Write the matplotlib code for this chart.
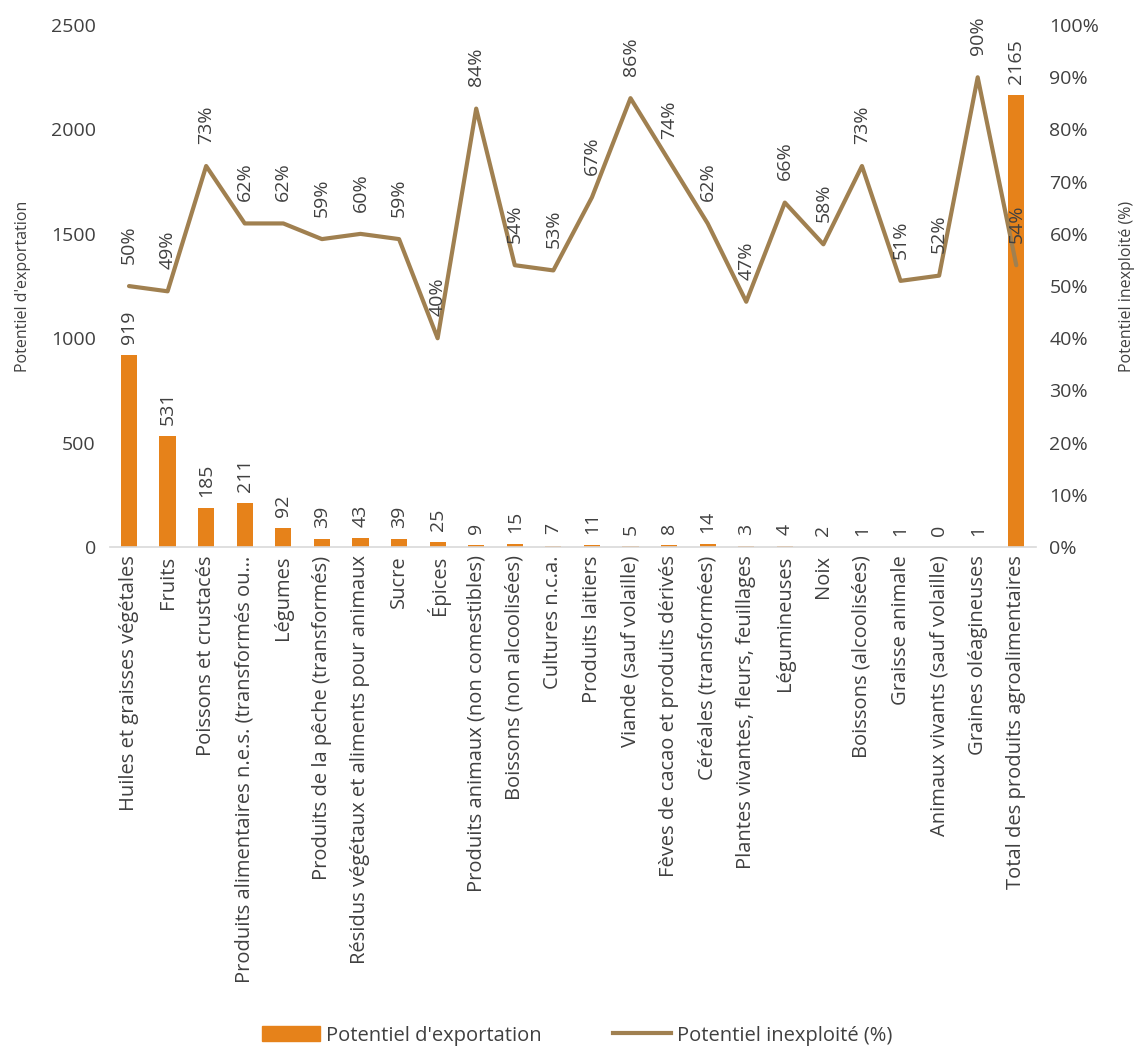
import numpy as np
import matplotlib.pyplot as plt
from matplotlib.lines import Line2D
from matplotlib.patches import Patch

plt.rcParams['font.family'] = ['Open Sans', 'DejaVu Sans']

categories = [
    'Huiles et graisses végétales', 'Fruits', 'Poissons et crustacés',
    'Produits alimentaires n.e.s. (transformés ou…', 'Légumes',
    'Produits de la pêche (transformés)',
    'Résidus végétaux et aliments pour animaux', 'Sucre', 'Épices',
    'Produits animaux (non comestibles)', 'Boissons (non alcoolisées)',
    'Cultures n.c.a.', 'Produits laitiers', 'Viande (sauf volaille)',
    'Fèves de cacao et produits dérivés', 'Céréales (transformées)',
    'Plantes vivantes, fleurs, feuillages', 'Légumineuses', 'Noix',
    'Boissons (alcoolisées)', 'Graisse animale',
    'Animaux vivants (sauf volaille)', 'Graines oléagineuses',
    'Total des produits agroalimentaires',
]
export_potential = [919, 531, 185, 211, 92, 39, 43, 39, 25, 9, 15, 7, 11,
                    5, 8, 14, 3, 4, 2, 1, 1, 0, 1, 2165]
untapped_pct = [50, 49, 73, 62, 62, 59, 60, 59, 40, 84, 54, 53, 67, 86,
                74, 62, 47, 66, 58, 73, 51, 52, 90, 54]

BAR = '#E6821A'
LINE = '#A08050'
TXT = '#404040'

fig = plt.figure(figsize=(11.43, 10.46), dpi=100)
ax = fig.add_axes([0.096, 0.477, 0.81, 0.499])
ax2 = ax.twinx()

x = np.arange(len(categories))
ax.bar(x, export_potential, width=0.42, color=BAR, zorder=2)
ax2.plot(x, untapped_pct, color=LINE, lw=3, solid_capstyle='round',
         solid_joinstyle='round', zorder=3)

# data labels, rotated like the original
for xi, v in zip(x, export_potential):
    ax.annotate(str(v), (xi, v), xytext=(0, 8), textcoords='offset points',
                rotation=90, ha='center', va='bottom', fontsize=14, color=TXT)
for xi, v in zip(x, untapped_pct):
    ax2.annotate(f'{v}%', (xi, v), xytext=(0, 16), textcoords='offset points',
                 rotation=90, ha='center', va='bottom', fontsize=14, color=TXT)

ax.set_xlim(-0.5, len(categories) - 0.5)
ax.set_ylim(0, 2500)
ax2.set_ylim(0, 100)
ax.set_yticks(range(0, 2501, 500))
ax2.set_yticks(range(0, 101, 10))
ax2.set_yticklabels([f'{t}%' for t in range(0, 101, 10)])
ax.set_xticks(x)
ax.set_xticklabels(categories, rotation=90, fontsize=14.5, color=TXT)

for a in (ax, ax2):
    for s in a.spines.values():
        s.set_visible(False)
    a.tick_params(axis='y', length=0, labelsize=14, labelcolor=TXT, pad=10)
ax.spines['bottom'].set_visible(True)
ax.spines['bottom'].set_color('#D9D9D9')
ax.spines['bottom'].set_linewidth(1.2)
ax.tick_params(axis='x', length=0, pad=6)
ax2.set_zorder(ax.get_zorder() + 1)
ax2.patch.set_visible(False)

ax.set_ylabel("Potentiel d'exportation", fontsize=11.5, color=TXT, labelpad=14)
ax2.set_ylabel('Potentiel inexploité (%)', fontsize=11.5, color=TXT, labelpad=14)

handles = [Patch(color=BAR, label="Potentiel d'exportation"),
           Line2D([], [], color=LINE, lw=3, label='Potentiel inexploité (%)')]
fig.legend(handles=handles, loc='center', bbox_to_anchor=(0.505, 0.01),
           ncol=2, frameon=False, fontsize=14.5, handlelength=2.9,
           handletextpad=0.3, columnspacing=3.5, labelcolor=TXT)

fig.savefig('out.png', dpi=100)
